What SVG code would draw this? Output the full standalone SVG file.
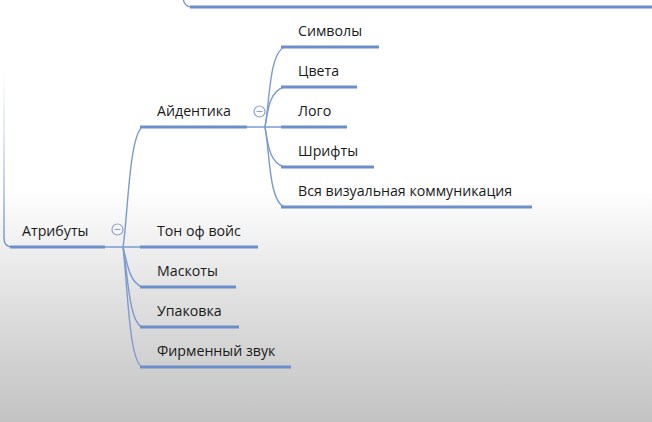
<svg xmlns="http://www.w3.org/2000/svg" width="652" height="422" viewBox="0 0 652 422">
<defs>
<linearGradient id="bg" x1="0" y1="0" x2="0" y2="1">
<stop offset="0" stop-color="#ffffff"/>
<stop offset="0.45" stop-color="#ffffff"/>
<stop offset="0.72" stop-color="#dfdfdf"/>
<stop offset="1" stop-color="#c3c3c3"/>
</linearGradient>
<linearGradient id="fade" gradientUnits="userSpaceOnUse" x1="0" y1="70" x2="0" y2="240">
<stop offset="0" stop-color="#6f92cc" stop-opacity="0"/>
<stop offset="0.45" stop-color="#6f92cc" stop-opacity="0.35"/>
<stop offset="1" stop-color="#6f92cc" stop-opacity="1"/>
</linearGradient>
<style>
.t{font-family:"Open Sans","Noto Sans","DejaVu Sans",sans-serif;font-size:14.2px;fill:#1a1a1a}
.u{stroke:#6a8fca;stroke-width:3.2;fill:none}
.c{stroke:#7c9ad0;stroke-width:1.4;fill:none}
.m{fill:#ffffff;fill-opacity:0.6;stroke:#8aa2d0;stroke-width:1.2}
.mm{stroke:#8aa2d0;stroke-width:1.2}
</style>
</defs>
<rect width="652" height="422" fill="url(#bg)"/>
<g id="connectors">
<path d="M4,-2 L4,238 Q4,247 12,247" style="fill:none;stroke:url(#fade);stroke-width:1.4"/>
<path class="c" d="M183,-2 Q184,7 192,7"/>
<path class="c" d="M105,247 L142,247"/>
<path class="c" d="M123,247 C128,215 129,138 142,127"/>
<path class="c" d="M123,247 C127,262 129,282 142,287"/>
<path class="c" d="M123,247 C128,275 129,322 142,327"/>
<path class="c" d="M123,247 C128,290 129,360 142,367"/>
<path class="c" d="M247,127 L284,127"/>
<path class="c" d="M265,127 C270,100 269,55 284,47"/>
<path class="c" d="M265,127 C268,110 269,92 284,87"/>
<path class="c" d="M265,127 C268,144 269,162 284,167"/>
<path class="c" d="M265,127 C270,155 269,200 284,207"/>
</g>
<g id="top-node"><path class="u" d="M190,7 L652,7"/></g>
<g id="attributes">
<path class="u" d="M10,247 L105,247"/>
<text class="t" x="22" y="236">Атрибуты</text>
<circle class="m" cx="117.5" cy="229.5" r="5.5"/><path class="mm" d="M114.5,229.5 L120.5,229.5"/>
</g>
<g id="identity">
<path class="u" d="M140,127 L247,127"/>
<text class="t" x="157" y="116">Айдентика</text>
<circle class="m" cx="259.5" cy="111.5" r="5.5"/><path class="mm" d="M256.5,111.5 L262.5,111.5"/>
</g>
<g id="symbols"><path class="u" d="M281,47 L379,47"/><text class="t" x="298" y="36">Символы</text></g>
<g id="colors"><path class="u" d="M281,87 L357,87"/><text class="t" x="298" y="76">Цвета</text></g>
<g id="logo"><path class="u" d="M281,127 L347,127"/><text class="t" x="298" y="116">Лого</text></g>
<g id="fonts"><path class="u" d="M281,167 L374,167"/><text class="t" x="298" y="156">Шрифты</text></g>
<g id="visual"><path class="u" d="M281,207 L532,207"/><text class="t" x="298" y="196">Вся визуальная коммуникация</text></g>
<g id="tone"><path class="u" d="M140,247 L258,247"/><text class="t" x="157" y="236">Тон оф войс</text></g>
<g id="mascots"><path class="u" d="M140,287 L236,287"/><text class="t" x="157" y="276">Маскоты</text></g>
<g id="packaging"><path class="u" d="M140,327 L239,327"/><text class="t" x="157" y="316">Упаковка</text></g>
<g id="sound"><path class="u" d="M140,367 L291,367"/><text class="t" x="157" y="356">Фирменный звук</text></g>
</svg>
